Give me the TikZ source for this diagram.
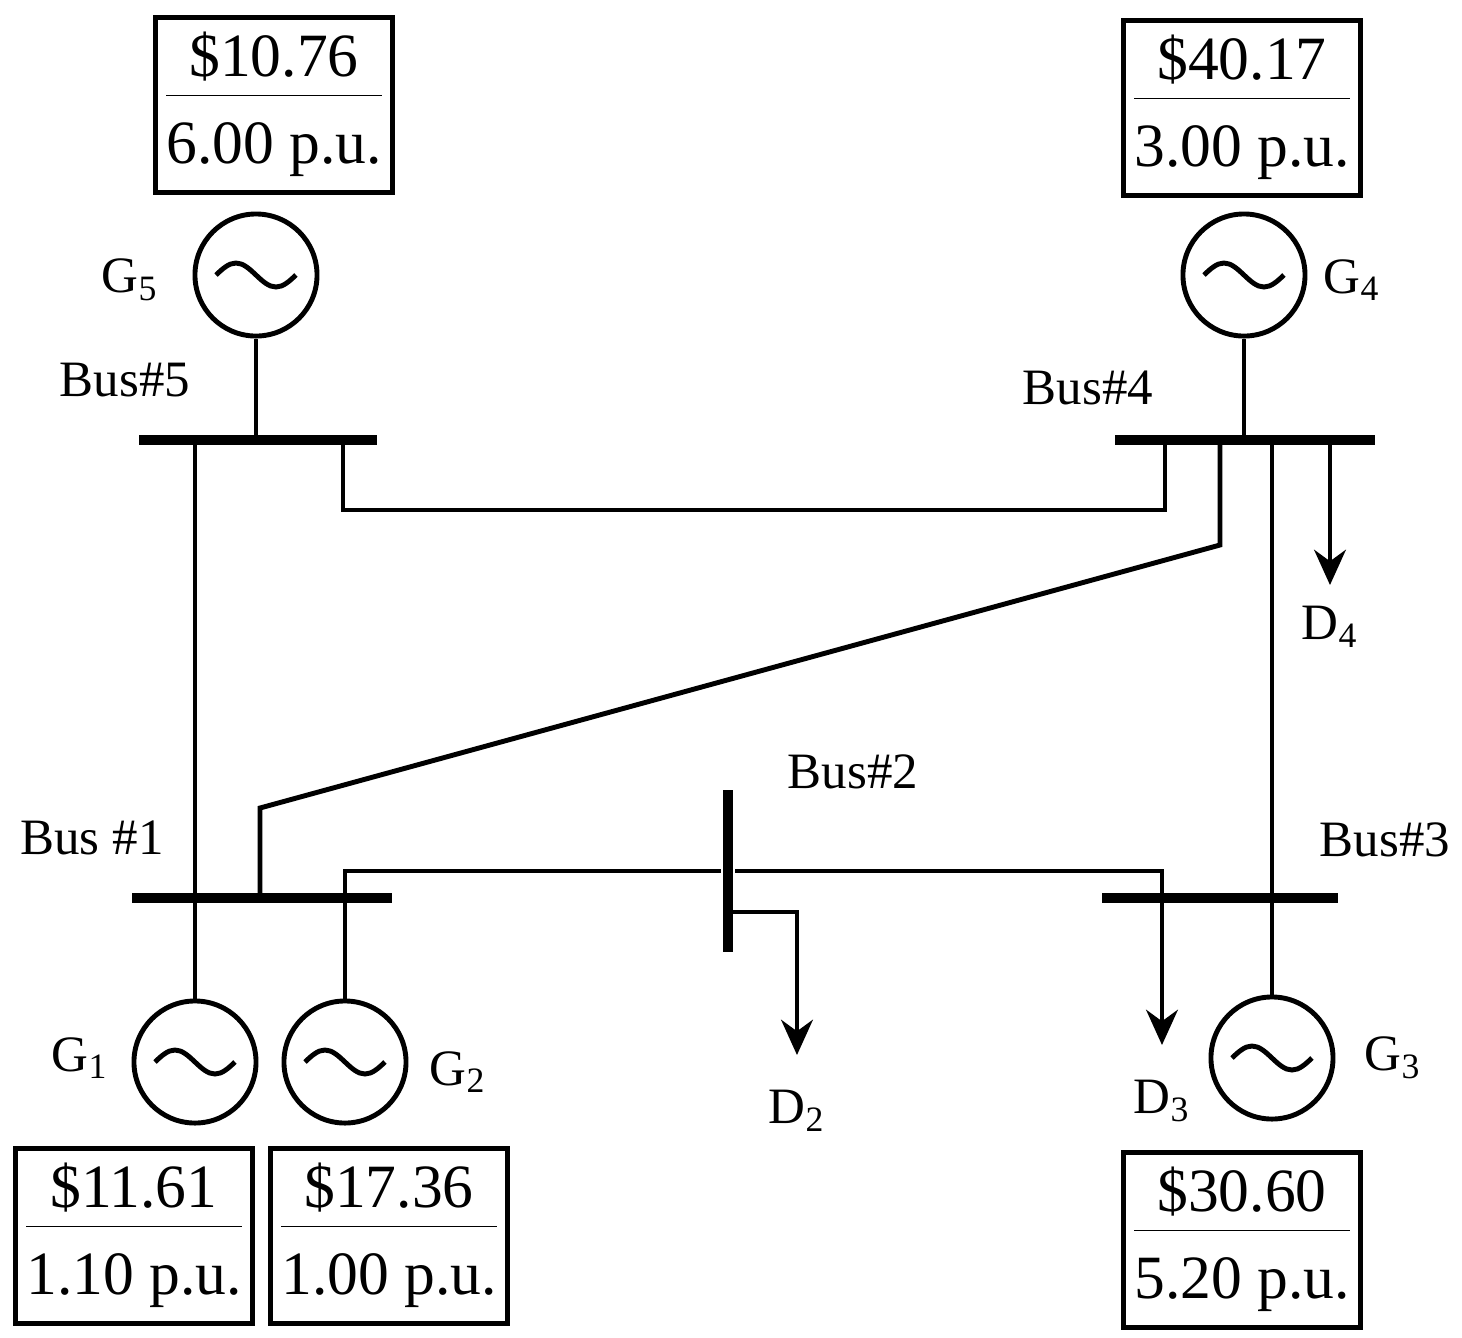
\documentclass[tikz,border=0pt]{standalone}
\usepackage{fontspec}
\setmainfont{Liberation Serif}
\usetikzlibrary{arrows.meta, positioning}

\newcommand{\price}[2]{\begin{tabular}{@{}c@{}}\$#1\\[-1pt]\hline\rule{0pt}{19pt}#2 p.u.\end{tabular}}

\begin{document}
\begin{tikzpicture}[
        x=0.01cm, y=-0.01cm,
        line width=1.4pt,
        bus/.style={rectangle, fill=black, inner sep=0pt},
        hbus/.style={bus, minimum height=2.8pt},
        vbus/.style={bus, minimum width=2.8pt},
        gen/.style={circle, draw, minimum size=1.22cm, inner sep=0pt},
        price/.style={rectangle, draw, minimum width=2.36cm, minimum height=1.54cm, inner sep=2pt, font=\fontsize{17.5}{21}\selectfont},
        lbl/.style={font=\fontsize{14.5}{17}\selectfont},
        load/.style={-{Stealth[length=10pt, width=9pt]}}
    ]
        \useasboundingbox (0,0) rectangle (1462,1338);

        % Buses
        \node[hbus, minimum width=2.37cm] (b5) at (258,440) {};
        \node[hbus, minimum width=2.6cm] (b4) at (1245,440) {};
        \node[hbus, minimum width=2.59cm] (b1) at (262,898) {};
        \node[hbus, minimum width=2.35cm] (b3) at (1220,898) {};
        \node[vbus, minimum height=1.62cm] (b2) at (728,871) {};
        \node[lbl] at (125,380) {Bus\#5};
        \node[lbl] at (1088,388) {Bus\#4};
        \node[lbl] at (92,838) {Bus \#1};
        \node[lbl] at (853,772) {Bus\#2};
        \node[lbl] at (1385,840) {Bus\#3};

        % Generators
        \node[gen] (g5) at (256,275) {};
        \node[gen] (g4) at (1244,275) {};
        \node[gen] (g1) at (195,1062) {};
        \node[gen] (g2) at (345,1062) {};
        \node[gen] (g3) at (1272,1058) {};
        \foreach \g in {g5,g4,g1,g2,g3}
            \draw ([xshift=-0.4cm]\g.center) sin ++(20,-12) cos ++(20,12) sin ++(20,12) cos ++(20,-12);
        \node[lbl] at (130,280) {G\textsubscript{5}};
        \node[lbl] at (1352,280) {G\textsubscript{4}};
        \node[lbl] at (80,1058) {G\textsubscript{1}};
        \node[lbl] at (458,1072) {G\textsubscript{2}};
        \node[lbl] at (1393,1058) {G\textsubscript{3}};

        % Prices
        \node[price] (p5) at (274,105) {\price{10.76}{6.00}};
        \node[price] (p4) at (1242,108) {\price{40.17}{3.00}};
        \node[price] (p1) at (134,1236) {\price{11.61}{1.10}};
        \node[price] (p2) at (389,1236) {\price{17.36}{1.00}};
        \node[price] (p3) at (1242,1240) {\price{30.60}{5.20}};

        % Generator ties
        \draw (g5) -- (g5 |- b5);
        \draw (g4) -- (g4 |- b4);
        \draw (g1) -- (g1 |- b1);
        \draw (g2) -- (g2 |- b1);
        \draw (g3) -- (g3 |- b3);

        % Lines
        \draw (b5 -| g1) -- (b1 -| g1);
        \draw (343,440) |- (1165,510) -- (1165,440);
        \draw (1220,440) -- (1220,545) -- (260,808) -- (260,898);
        \draw (b4 -| g3) -- (b3 -| g3);
        \draw (b1 -| g2) |- (b2);
        \draw (b2) -| (1162,898);

        % Loads
        \draw[load] (1330,440) -- (1330,585) node[lbl, below=2pt] (d4) {D\textsubscript{4}};
        \draw[load] (1162,898) -- (1162,1045) node[lbl, below=6pt] (d3) {D\textsubscript{3}};
        \draw[load] (728,912) -| (797,1055) node[lbl, below=6pt] (d2) {D\textsubscript{2}};
    \end{tikzpicture}
\end{document}
